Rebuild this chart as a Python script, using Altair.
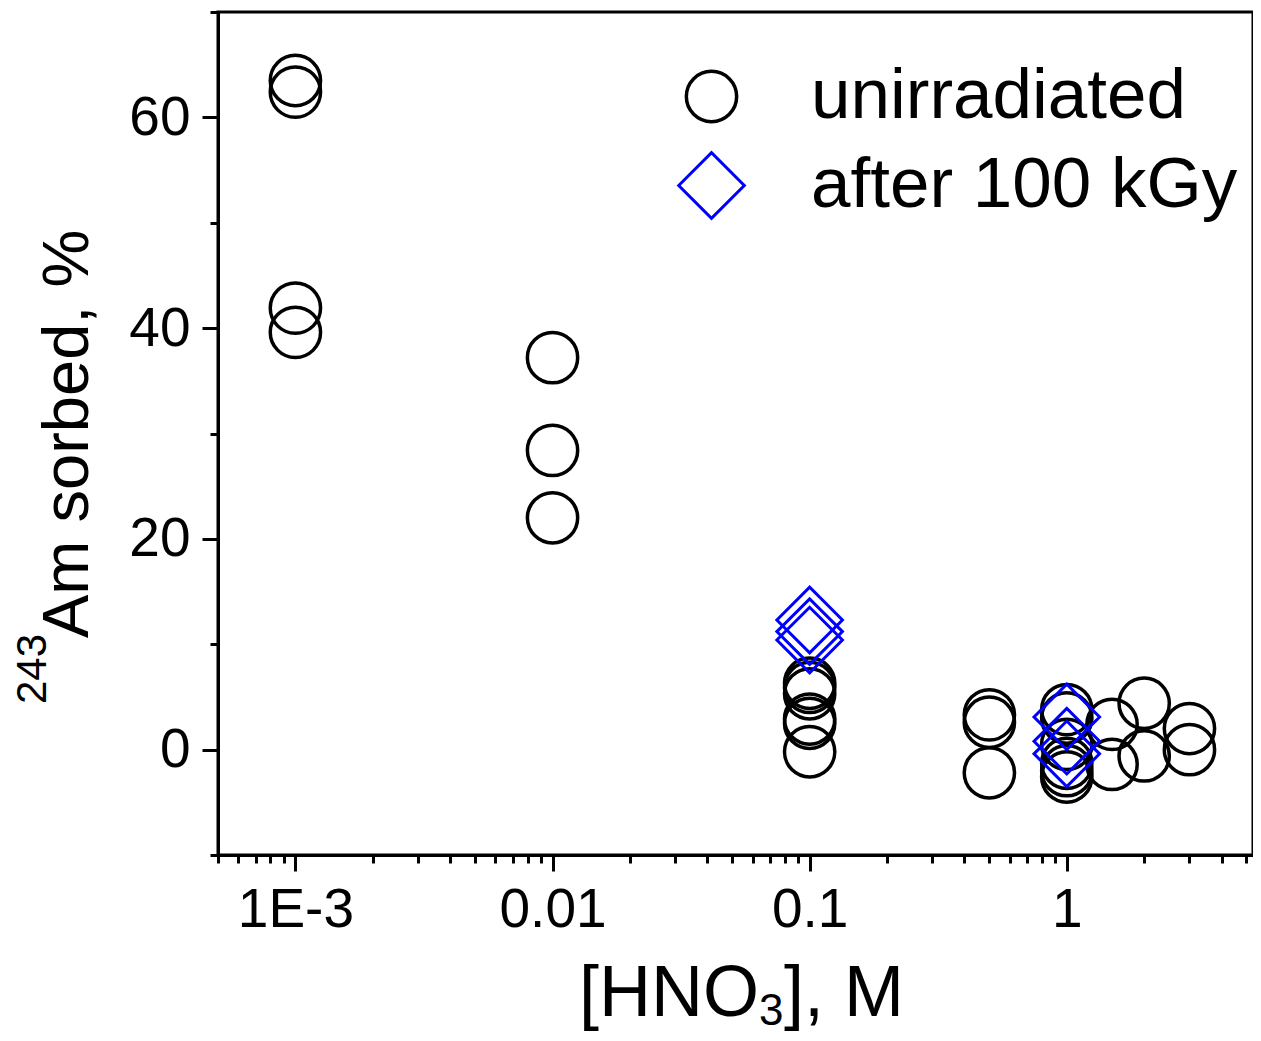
import altair as alt
import pandas as pd

# ---------------- data ----------------
unirr_x = [0.001, 0.001, 0.001, 0.001,
           0.01, 0.01, 0.01,
           0.1, 0.1, 0.1, 0.1, 0.1, 0.1,
           0.5, 0.5, 0.5,
           1, 1, 1, 1, 1, 1,
           1.5, 1.5,
           2, 2,
           3, 3]
unirr_y = [63.5, 62.4, 41.9, 39.6,
           37.2, 28.4, 22.0,
           6.3, 5.9, 5.3, 2.9, 2.5, -0.2,
           3.3, 2.6, -2.2,
           3.8, 3.0, 0.5, -1.3, -2.0, -2.6,
           2.4, -1.4,
           4.4, -0.6,
           2.0, 0.0]
irr_x = [0.1, 0.1, 0.1, 1, 1, 1]
irr_y = [12.3, 11.2, 10.4, 3.1, 0.8, -0.4]

series_names = ["unirradiated", "after 100 kGy"]

x_major = [0.001, 0.01, 0.1, 1]
x_major_labels = ["1E-3", "0.01", "0.1", "1"]
x_minor = [0.0005, 0.0006, 0.0007, 0.0008, 0.0009,
           0.002, 0.003, 0.004, 0.005, 0.006, 0.007, 0.008, 0.009,
           0.02, 0.03, 0.04, 0.05, 0.06, 0.07, 0.08, 0.09,
           0.2, 0.3, 0.4, 0.5, 0.6, 0.7, 0.8, 0.9,
           2, 3, 4, 5]
y_major = [0, 20, 40, 60]
y_minor = [-10, 10, 30, 50, 70]

df = pd.DataFrame({
    "x": unirr_x + irr_x,
    "y": unirr_y + irr_y,
    "series": [series_names[0]] * len(unirr_x) + [series_names[1]] * len(irr_x),
})

FONT = "Liberation Sans"

xmaj_js = "[" + ",".join(repr(v) for v in x_major) + "]"
xlab_js = "[" + ",".join("'" + s + "'" for s in x_major_labels) + "]"
ymaj_js = "[" + ",".join(repr(v) for v in y_major) + "]"

x_axis = alt.Axis(
    values=sorted(x_major + x_minor),
    labelExpr=f"indexof({xmaj_js}, datum.value) >= 0 ? {xlab_js}[indexof({xmaj_js}, datum.value)] : ''",
    tickSize={"condition": {"test": f"indexof({xmaj_js}, datum.value) >= 0", "value": 16}, "value": 8},
    labelFontSize=55, labelPadding=12, labelOverlap=False, labelFlush=False,
    title=None, grid=False,
)
y_axis = alt.Axis(
    values=sorted(y_major + y_minor),
    labelExpr=f"indexof({ymaj_js}, datum.value) >= 0 ? datum.label : ''",
    tickSize={"condition": {"test": f"indexof({ymaj_js}, datum.value) >= 0", "value": 16}, "value": 8},
    labelFontSize=55, labelPadding=12, labelOverlap=False, labelFlush=False,
    title=None, grid=False,
)

def legend():
    return alt.Legend(title=None, orient="none", legendX=458, legendY=49,
                      labelFontSize=71, labelFont=FONT, labelColor="black",
                      labelLimit=0, labelOffset=64, rowPadding=14, padding=0)

points = alt.Chart(df).mark_point(filled=False, opacity=1).encode(
    x=alt.X("x:Q", scale=alt.Scale(type="log", domain=[0.0005, 5.3]), axis=x_axis),
    y=alt.Y("y:Q", scale=alt.Scale(domain=[-10, 70], nice=False, zero=False), axis=y_axis),
    shape=alt.Shape("series:N", scale=alt.Scale(domain=series_names, range=["circle", "diamond"]),
                    legend=legend()),
    color=alt.Color("series:N", scale=alt.Scale(domain=series_names, range=["black", "#0000ff"]),
                    legend=legend()),
    size=alt.Size("series:N", scale=alt.Scale(domain=series_names, range=[2530, 4300]),
                  legend=legend()),
    strokeWidth=alt.StrokeWidth("series:N", scale=alt.Scale(domain=series_names, range=[3.5, 3.0]),
                                legend=legend()),
)

one = pd.DataFrame({"k": [0]})

def label(text, x, y, size, angle=0):
    return alt.Chart(one).mark_text(
        text=text, font=FONT, fontSize=size, color="black", align="left",
        baseline="alphabetic", angle=angle,
    ).encode(x=alt.value(x), y=alt.value(y))

# x-axis title: [HNO3], M  (pixel offsets relative to the plot origin)
xt1 = label("[HNO", 361, 1004, 72)
xt2 = label("3", 541, 1013, 44)
xt3 = label("], M", 566, 1004, 72)
# y-axis title: 243Am sorbed, %
yt1 = label("Am sorbed, %", -130, 626, 65, angle=270)
yt2 = label("243", -172, 692, 42, angle=270)

chart = alt.layer(points, xt1, xt2, xt3, yt1, yt2).properties(
    width=1035, height=843,
    autosize=alt.AutoSizeParams(type="none"),
    padding={"left": 210, "top": 4, "right": 0, "bottom": 178},
).configure_view(
    stroke="black", strokeWidth=3,
).configure_axis(
    domainColor="black", domainWidth=3, tickColor="black", tickWidth=3,
    labelColor="black", labelFont=FONT,
)

chart.save("out.html", embed_options={"renderer": "svg", "actions": False})
